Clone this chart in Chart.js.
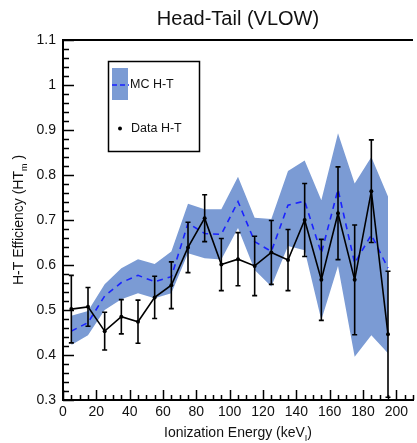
<!DOCTYPE html>
<html>
<head>
<meta charset="utf-8">
<script src="https://cdn.jsdelivr.net/npm/chart.js@4.4.1/dist/chart.umd.min.js"></script>
<style>
    html, body { margin: 0; padding: 0; background: #fff; overflow: hidden; }
    #wrap { width: 417px; height: 443px; }
</style>
</head>
<body>
<div id="wrap"><canvas id="eff" width="417" height="443"></canvas></div>
<script>
// ionization energy bin centres (keV)
var energy = [5, 15, 25, 35, 45, 55, 65, 75, 85, 95, 105, 115, 125, 135, 145, 155, 165, 175, 185, 195];

// measured head-tail efficiency and its error
var dataHT = [0.502, 0.507, 0.453, 0.485, 0.474, 0.528, 0.555, 0.639, 0.704, 0.601,
              0.613, 0.598, 0.628, 0.611, 0.700, 0.567, 0.715, 0.567, 0.764, 0.446];
var dataErr = [0.075, 0.043, 0.042, 0.038, 0.048, 0.047, 0.052, 0.056, 0.052, 0.058,
               0.059, 0.066, 0.071, 0.068, 0.081, 0.090, 0.103, 0.122, 0.114, 0.140];

// simulation: central value and band
var mcHT = [0.453, 0.472, 0.531, 0.561, 0.577, 0.563, 0.574, 0.693, 0.670, 0.668,
            0.741, 0.652, 0.630, 0.733, 0.742, 0.626, 0.768, 0.604, 0.667, 0.593];
var mcHigh = [0.487, 0.498, 0.557, 0.593, 0.613, 0.602, 0.630, 0.736, 0.724, 0.724,
              0.796, 0.705, 0.702, 0.809, 0.832, 0.744, 0.893, 0.781, 0.840, 0.752];
var mcLow = [0.422, 0.444, 0.500, 0.524, 0.537, 0.526, 0.537, 0.626, 0.615, 0.612,
             0.682, 0.589, 0.552, 0.642, 0.633, 0.478, 0.598, 0.396, 0.444, 0.404];

// labelled ticks
var xTickValues = [0, 20, 40, 60, 80, 100, 120, 140, 160, 180, 200];
var yTickValues = [0.3, 0.4, 0.5, 0.6, 0.7, 0.8, 0.9, 1.0, 1.1];

var FONT = "'Liberation Sans', Arial, Helvetica, sans-serif";
var bandColor = 'rgb(123, 155, 212)';

function pts(ys) {
    var out = [];
    for (var i in energy) {
        out.push({x: energy[i], y: ys[i]});
    }
    return out;
}

// text with a subscript in the middle: before, sub, after
function subText(ctx, before, sub, after, size) {
    ctx.font = size + 'px ' + FONT;
    var w1 = ctx.measureText(before).width;
    var w3 = ctx.measureText(after).width;
    ctx.font = Math.round(size * 0.62) + 'px ' + FONT;
    var w2 = ctx.measureText(sub).width;
    var x = -(w1 + w2 + w3) / 2;
    ctx.textAlign = 'left';
    ctx.textBaseline = 'alphabetic';
    ctx.font = size + 'px ' + FONT;
    ctx.fillText(before, x, 0);
    ctx.font = Math.round(size * 0.62) + 'px ' + FONT;
    ctx.fillText(sub, x + w1, size * 0.3);
    ctx.font = size + 'px ' + FONT;
    ctx.fillText(after, x + w1 + w2, 0);
}

var decorations = {
    id: 'decorations',
    afterDatasetsDraw: function (chart) {
        var ctx = chart.ctx;
        var xs = chart.scales.x, ys = chart.scales.y;
        ctx.save();
        ctx.strokeStyle = '#000';
        ctx.lineWidth = 1.6;
        for (var i in energy) {
            var px = xs.getPixelForValue(energy[i]);
            var top = ys.getPixelForValue(dataHT[i] + dataErr[i]);
            var bot = ys.getPixelForValue(dataHT[i] - dataErr[i]);
            ctx.beginPath();
            ctx.moveTo(px, top); ctx.lineTo(px, bot);
            ctx.moveTo(px - 2.5, top); ctx.lineTo(px + 2.5, top);
            ctx.moveTo(px - 2.5, bot); ctx.lineTo(px + 2.5, bot);
            ctx.stroke();
        }
        ctx.restore();
    },
    afterDraw: function (chart) {
        var ctx = chart.ctx;
        var a = chart.chartArea;
        var xs = chart.scales.x, ys = chart.scales.y;
        ctx.save();

        // top frame line
        ctx.strokeStyle = '#000';
        ctx.lineWidth = 2;
        ctx.beginPath();
        ctx.moveTo(a.left - 1, a.top);
        ctx.lineTo(a.right, a.top);
        ctx.stroke();

        // inward ticks
        ctx.lineWidth = 1.5;
        ctx.beginPath();
        for (var v = 0; v <= 210; v += 5) {
            var px = Math.round(xs.getPixelForValue(v)) + 0.5;
            var len = (v % 20 === 0) ? 10 : 5;
            ctx.moveTo(px, a.bottom);
            ctx.lineTo(px, a.bottom - len);
        }
        for (var k = 0; k <= 40; k++) {
            var py = Math.round(ys.getPixelForValue(0.3 + k * 0.02)) + 0.5;
            var l = (k % 5 === 0) ? 11 : 6;
            ctx.moveTo(a.left, py);
            ctx.lineTo(a.left + l, py);
        }
        ctx.stroke();

        // title
        ctx.fillStyle = '#111';
        ctx.font = '20px ' + FONT;
        ctx.textAlign = 'center';
        ctx.textBaseline = 'middle';
        ctx.fillText('Head-Tail (VLOW)', (a.left + a.right) / 2, 19);

        // axis titles
        ctx.save();
        ctx.translate((a.left + a.right) / 2, 437);
        subText(ctx, 'Ionization Energy (keV', 'I', ')', 14);
        ctx.restore();

        ctx.save();
        ctx.translate(23, (a.top + a.bottom) / 2);
        ctx.rotate(-Math.PI / 2);
        subText(ctx, 'H-T Efficiency (HT', 'm', ' )', 14);
        ctx.restore();

        // legend
        ctx.lineWidth = 1.5;
        ctx.strokeStyle = '#000';
        ctx.strokeRect(108.5, 61.5, 91, 90);
        ctx.fillStyle = bandColor;
        ctx.fillRect(112, 68, 16, 32);
        ctx.strokeStyle = '#1a22ff';
        ctx.setLineDash([5, 3]);
        ctx.beginPath();
        ctx.moveTo(112, 85);
        ctx.lineTo(129, 85);
        ctx.stroke();
        ctx.setLineDash([]);
        ctx.fillStyle = '#000';
        ctx.beginPath();
        ctx.arc(120, 128.5, 2, 0, Math.PI * 2);
        ctx.fill();
        ctx.fillStyle = '#111';
        ctx.font = '12.5px ' + FONT;
        ctx.textAlign = 'left';
        ctx.textBaseline = 'middle';
        ctx.fillText('MC H-T', 130, 85);
        ctx.fillText('Data H-T', 131, 128.5);

        ctx.restore();
    }
};

// higher order is drawn first (underneath)
var chartdata = {
    datasets: [
        {
            label: 'MC low',
            data: pts(mcLow),
            order: 4,
            borderWidth: 0,
            borderColor: 'rgba(0,0,0,0)',
            pointRadius: 0,
            fill: false
        },
        {
            label: 'MC band',
            data: pts(mcHigh),
            order: 3,
            borderWidth: 0,
            borderColor: 'rgba(0,0,0,0)',
            backgroundColor: bandColor,
            pointRadius: 0,
            fill: '-1'
        },
        {
            label: 'MC H-T',
            data: pts(mcHT),
            order: 2,
            borderColor: '#1a22ff',
            borderWidth: 1.6,
            borderDash: [6, 5],
            pointRadius: 0,
            fill: false
        },
        {
            label: 'Data H-T',
            data: pts(dataHT),
            order: 1,
            borderColor: '#000',
            borderWidth: 1.6,
            pointRadius: 2,
            pointBackgroundColor: '#000',
            pointBorderWidth: 0,
            fill: false
        }
    ]
};

var ctx = document.getElementById('eff');

var effChart = new Chart(ctx, {
    type: 'line',
    data: chartdata,
    plugins: [decorations],
    options: {
        responsive: false,
        animation: false,
        devicePixelRatio: 1,
        layout: {padding: {top: 40, right: 0, bottom: 0, left: 0}},
        elements: {line: {tension: 0}},
        plugins: {
            legend: {display: false},
            title: {display: false},
            tooltip: {enabled: false},
            filler: {drawTime: 'beforeDatasetsDraw'}
        },
        scales: {
            x: {
                type: 'linear',
                min: 0,
                max: 210,
                grid: {display: false, drawTicks: false},
                border: {display: true, color: '#000', width: 2},
                ticks: {
                    autoSkip: false,
                    maxRotation: 0,
                    padding: 4,
                    color: '#111',
                    font: {family: FONT, size: 14}
                },
                afterBuildTicks: function (s) {
                    s.ticks = xTickValues.map(function (v) { return {value: v}; });
                },
                afterFit: function (s) { s.height = 43; }
            },
            y: {
                min: 0.3,
                max: 1.1,
                grid: {display: false, drawTicks: false},
                border: {display: true, color: '#000', width: 2},
                ticks: {
                    padding: 7,
                    color: '#111',
                    font: {family: FONT, size: 14},
                    callback: function (v) { return String(+v.toFixed(1)); }
                },
                afterBuildTicks: function (s) {
                    s.ticks = yTickValues.map(function (v) { return {value: v}; });
                },
                afterFit: function (s) { s.width = 63; }
            }
        }
    }
});
</script>
</body>
</html>
